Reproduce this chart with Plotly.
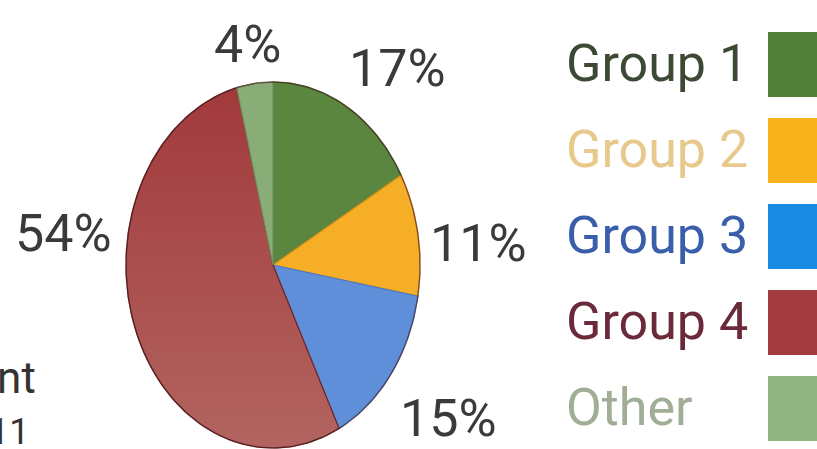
import numpy as np
import plotly.graph_objects as go

# ---- data ----
groups = ["Group 1", "Group 2", "Group 3", "Group 4", "Other"]
values = [17, 11, 15, 54, 4]
pct_labels = ["17%", "11%", "15%", "54%", "4%"]
slice_colors = ["#5a8640", "#f6ae27", "#5f8fd8", "#a53f40", "#8aac76"]
slice_lines = ["#3f6a2a", "#d8921a", "#4a78c0", "#6e2226", "#6f9260"]
legend_swatch = ["#52803a", "#f8b21c", "#1a8be2", "#a23b3d", "#90b382"]
legend_text = ["#3c4934", "#e8c98c", "#3a5ea9", "#6a2a3a", "#9fae94"]

# ---- layout constants (pixel space) ----
W, H = 817, 449
cx, cy, rx, ry = 273, 265, 147, 183
FONT = "Roboto, Liberation Sans, Arial"

fig = go.Figure()

total = float(sum(values))
start = 0.0
for i, v in enumerate(values):
    a0 = start / total * 2 * np.pi
    a1 = (start + v) / total * 2 * np.pi
    t = np.linspace(a0, a1, max(8, int(v * 4)))
    xs = np.concatenate([[cx], cx + rx * np.sin(t), [cx]])
    ys = np.concatenate([[cy], cy - ry * np.cos(t), [cy]])
    kw = {}
    if groups[i] == "Group 4":
        kw["fillgradient"] = dict(type="vertical",
                                  colorscale=[[0, "#a2393b"], [1, "#b26460"]],
                                  start=cy - ry, stop=cy + ry)
    else:
        kw["fillcolor"] = slice_colors[i]
    fig.add_trace(go.Scatter(x=xs, y=ys, mode="lines", fill="toself",
                             line=dict(color=slice_lines[i], width=1.2),
                             name=groups[i], hoverinfo="name", showlegend=False, **kw))
    start += v

# outline of the whole pie
tt = np.linspace(0, 2 * np.pi, 200)
fig.add_trace(go.Scatter(x=cx + rx * np.sin(tt), y=cy - ry * np.cos(tt), mode="lines",
                         line=dict(color="rgba(70,25,25,0.55)", width=1.5),
                         hoverinfo="skip", showlegend=False))

# percentage labels
label_pos = {"17%": (397, 68), "11%": (478, 243), "15%": (448, 418),
             "54%": (63, 233), "4%": (247, 44)}
for lab in pct_labels:
    x, y = label_pos[lab]
    fig.add_annotation(x=x, y=y, text=lab, showarrow=False, xref="x", yref="y",
                       font=dict(family=FONT, size=52, color="#3a3a3a"))

# legend (text + swatch) at the right
for i, g in enumerate(groups):
    yc = 63 + i * 86
    fig.add_annotation(x=564, y=yc, text=g, showarrow=False, xanchor="left", xref="x", yref="y",
                       font=dict(family=FONT, size=52, color=legend_text[i]))
    fig.add_shape(type="rect", x0=768, x1=830, y0=yc - 31, y1=yc + 34, xref="x", yref="y",
                  fillcolor=legend_swatch[i], line=dict(width=0))

# clipped text fragments at the bottom left
fig.add_annotation(x=38, y=378, text="ont", showarrow=False, xanchor="right", xref="x", yref="y",
                   font=dict(family=FONT, size=44, color="#333333"))
fig.add_annotation(x=31, y=432, text="11", showarrow=False, xanchor="right", xref="x", yref="y",
                   font=dict(family=FONT, size=36, color="#333333"))

fig.update_layout(width=W, height=H, margin=dict(l=0, r=0, t=0, b=0),
                  paper_bgcolor="white", plot_bgcolor="white", showlegend=False,
                  xaxis=dict(range=[0, W], visible=False, fixedrange=True),
                  yaxis=dict(range=[H, 0], visible=False, fixedrange=True))

fig.write_html("out.html", config={"displayModeBar": False},
               post_script="document.body.style.margin='0px';document.body.style.overflow='hidden';")
